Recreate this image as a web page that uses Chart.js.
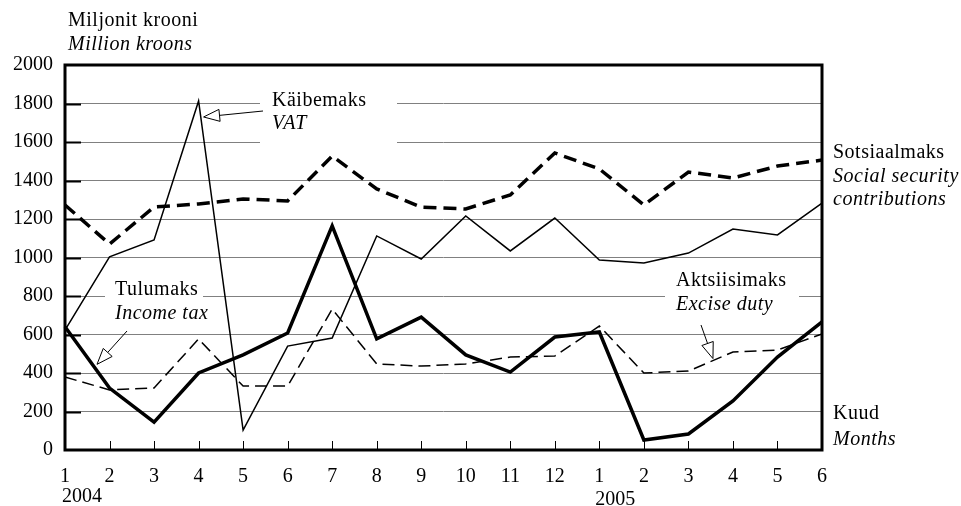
<!DOCTYPE html>
<html>
<head>
<meta charset="utf-8">
<title>Maksulaekumised</title>
<script src="https://cdn.jsdelivr.net/npm/chart.js"></script>
<style>
  html, body { margin: 0; padding: 0; background: #fff; }
  #wrap { width: 961px; height: 506px; }
</style>
</head>
<body>
<div id="wrap"><canvas id="taxChart" width="961" height="506"></canvas></div>
<script>
const months = ['1', '2', '3', '4', '5', '6', '7', '8', '9', '10', '11', '12', '1', '2', '3', '4', '5', '6'];
const yearLabels = ['2004', '2005'];

// million kroons
const socialSecurity = [1273, 1070, 1262, 1278, 1304, 1294, 1527, 1356, 1262, 1252, 1325, 1543, 1460, 1273, 1444, 1413, 1475, 1506];
const vat = [623, 1003, 1091, 1813, 104, 540, 582, 1112, 992, 1216, 1034, 1205, 987, 971, 1023, 1148, 1117, 1283];
const incomeTax = [640, 322, 145, 400, 494, 608, 1164, 577, 690, 494, 405, 587, 613, 52, 83, 255, 483, 665];
const exciseDuty = [379, 312, 322, 577, 332, 332, 732, 447, 436, 447, 483, 488, 644, 400, 410, 509, 519, 603];

const serif = '"Liberation Serif", "DejaVu Serif", serif';

// label boxes that cut the grid lines, relative to chart area
const labelBoxes = [
  { x: 195, y: 30, w: 137, h: 55 },   // Käibemaks / VAT
  { x: 40, y: 220, w: 98, h: 24 },    // Tulumaks
  { x: 600, y: 220, w: 134, h: 24 }   // Aktsiisimaks
];

function arrow(ctx, x1, y1, x2, y2) {
  const ang = Math.atan2(y2 - y1, x2 - x1);
  const len = 16, half = 6;
  const bx = x2 - len * Math.cos(ang), by = y2 - len * Math.sin(ang);
  ctx.save();
  ctx.strokeStyle = '#000';
  ctx.lineWidth = 1;
  ctx.beginPath();
  ctx.moveTo(x1, y1);
  ctx.lineTo(bx, by);
  ctx.stroke();
  ctx.beginPath();
  ctx.moveTo(x2, y2);
  ctx.lineTo(bx + half * Math.sin(ang), by - half * Math.cos(ang));
  ctx.lineTo(bx - half * Math.sin(ang), by + half * Math.cos(ang));
  ctx.closePath();
  ctx.fillStyle = '#fff';
  ctx.fill();
  ctx.stroke();
  ctx.restore();
}

const decorations = {
  id: 'decorations',
  beforeDatasetsDraw(chart) {
    const { ctx, chartArea: a } = chart;
    ctx.save();
    ctx.fillStyle = '#fff';
    labelBoxes.forEach(b => ctx.fillRect(a.left + b.x, a.top + b.y, b.w, b.h));
    ctx.restore();
  },
  afterDraw(chart) {
    const { ctx, chartArea: a, scales: { x, y } } = chart;
    ctx.save();

    // frame
    ctx.strokeStyle = '#000';
    ctx.lineWidth = 3;
    ctx.strokeRect(a.left, a.top, a.right - a.left, a.bottom - a.top);

    // inward ticks on y axis
    ctx.lineWidth = 2;
    for (let v = 200; v < 2000; v += 200) {
      const py = Math.round(y.getPixelForValue(v)) + 0.5;
      ctx.beginPath();
      ctx.moveTo(a.left, py);
      ctx.lineTo(a.left + 16, py);
      ctx.stroke();
    }
    // inward ticks on x axis
    ctx.lineWidth = 1;
    for (let i = 1; i < months.length - 1; i++) {
      const px = Math.round(x.getPixelForValue(i)) + 0.5;
      ctx.beginPath();
      ctx.moveTo(px, a.bottom);
      ctx.lineTo(px, a.bottom - 9);
      ctx.stroke();
    }

    ctx.fillStyle = '#000';
    ctx.textBaseline = 'middle';
    ctx.textAlign = 'left';
    ctx.letterSpacing = '0.5px';
    const up = '20px ' + serif, it = 'italic 20px ' + serif;
    function txt(s, px, py, f) { ctx.font = f; ctx.fillText(s, px, py); }

    txt('Miljonit krooni', 68, 21, up);
    txt('Million kroons', 68, 45, it);

    txt('Käibemaks', a.left + 207, a.top + 36, up);
    txt('VAT', a.left + 207, a.top + 59, it);

    txt('Tulumaks', a.left + 50, a.top + 225, up);
    txt('Income tax', a.left + 50, a.top + 249, it);

    txt('Aktsiisimaks', a.left + 611, a.top + 216, up);
    txt('Excise duty', a.left + 611, a.top + 240, it);

    txt('Sotsiaalmaks', a.right + 11, 153, up);
    txt('Social security', a.right + 11, 177, it);
    txt('contributions', a.right + 11, 200, it);

    txt('Kuud', a.right + 11, 414, up);
    txt('Months', a.right + 11, 440, it);

    ctx.letterSpacing = '0px';
    txt(yearLabels[0], x.getPixelForValue(0) - 3, 497, up);
    txt(yearLabels[1], x.getPixelForValue(12) - 4, 500, up);

    // pointer arrows
    arrow(ctx, a.left + 198, a.top + 46, x.getPixelForValue(3) + 5, y.getPixelForValue(1730));
    arrow(ctx, a.left + 62, a.top + 266, x.getPixelForValue(0) + 32, y.getPixelForValue(445));
    arrow(ctx, a.left + 636, a.top + 260, x.getPixelForValue(15) - 20, y.getPixelForValue(475));

    ctx.restore();
  }
};

new Chart(document.getElementById('taxChart'), {
  type: 'line',
  data: {
    labels: months,
    datasets: [
      { label: 'Sotsiaalmaks', data: socialSecurity, borderColor: '#000', borderWidth: 3.5, borderDash: [13, 7] },
      { label: 'Käibemaks', data: vat, borderColor: '#000', borderWidth: 1.5 },
      { label: 'Tulumaks', data: incomeTax, borderColor: '#000', borderWidth: 3.5 },
      { label: 'Aktsiisimaks', data: exciseDuty, borderColor: '#000', borderWidth: 1.5, borderDash: [12, 6] }
    ]
  },
  options: {
    responsive: false,
    animation: false,
    layout: { padding: { top: 65, right: 139, left: 0, bottom: 0 } },
    elements: { point: { radius: 0 }, line: { tension: 0 } },
    plugins: { legend: { display: false }, tooltip: { enabled: false } },
    scales: {
      x: {
        grid: { display: false },
        border: { display: false },
        ticks: { color: '#000', font: { family: serif, size: 20 }, maxRotation: 0, autoSkip: false, padding: 7 },
        afterFit(scale) { scale.height = 56; }
      },
      y: {
        min: 0,
        max: 2000,
        grid: { color: '#808080', lineWidth: 1, drawTicks: false },
        border: { display: false },
        ticks: { stepSize: 200, color: '#000', font: { family: serif, size: 20 }, padding: 12, callback: v => String(v) },
        afterFit(scale) { scale.width = 65; }
      }
    }
  },
  plugins: [decorations]
});
</script>
</body>
</html>
